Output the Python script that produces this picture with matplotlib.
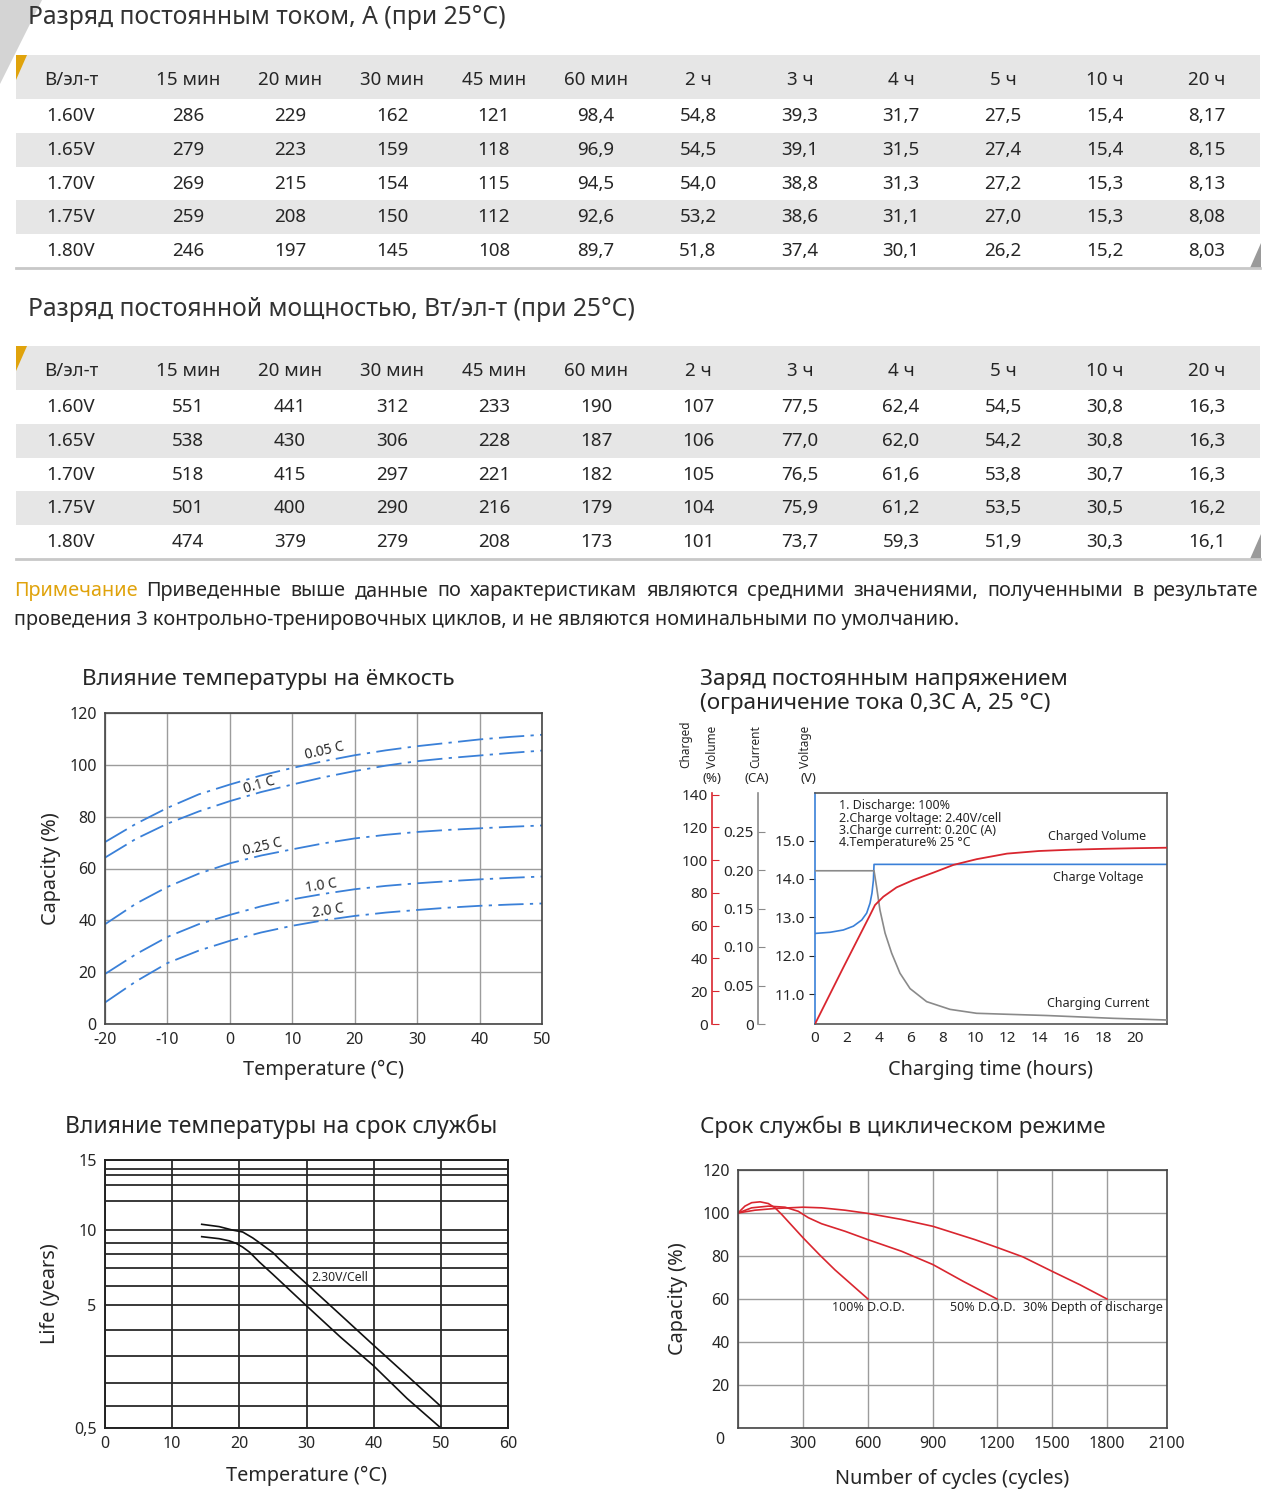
import numpy as np
import matplotlib
matplotlib.use('Agg')
import matplotlib.pyplot as plt
from matplotlib.patches import Rectangle, Polygon

plt.rcParams['font.family'] = ['Noto Sans', 'DejaVu Sans']
plt.rcParams['axes.unicode_minus'] = False

W, H = 1280, 1507
TXT = '#262626'
GOLD = '#e0a30c'
BAND = '#e6e6e6'
BLUE = '#3a80d8'
RED = '#d9262f'

# ---------------- table data ----------------
col_hdr = ['В/эл-т', '15 мин', '20 мин', '30 мин', '45 мин', '60 мин',
           '2 ч', '3 ч', '4 ч', '5 ч', '10 ч', '20 ч']
volt_rows = ['1.60V', '1.65V', '1.70V', '1.75V', '1.80V']
current_vals = [
    ['286', '229', '162', '121', '98,4', '54,8', '39,3', '31,7', '27,5', '15,4', '8,17'],
    ['279', '223', '159', '118', '96,9', '54,5', '39,1', '31,5', '27,4', '15,4', '8,15'],
    ['269', '215', '154', '115', '94,5', '54,0', '38,8', '31,3', '27,2', '15,3', '8,13'],
    ['259', '208', '150', '112', '92,6', '53,2', '38,6', '31,1', '27,0', '15,3', '8,08'],
    ['246', '197', '145', '108', '89,7', '51,8', '37,4', '30,1', '26,2', '15,2', '8,03'],
]
power_vals = [
    ['551', '441', '312', '233', '190', '107', '77,5', '62,4', '54,5', '30,8', '16,3'],
    ['538', '430', '306', '228', '187', '106', '77,0', '62,0', '54,2', '30,8', '16,3'],
    ['518', '415', '297', '221', '182', '105', '76,5', '61,6', '53,8', '30,7', '16,3'],
    ['501', '400', '290', '216', '179', '104', '75,9', '61,2', '53,5', '30,5', '16,2'],
    ['474', '379', '279', '208', '173', '101', '73,7', '59,3', '51,9', '30,3', '16,1'],
]
note_head = 'Примечание'
note_line1 = 'Приведенные выше данные по характеристикам являются средними значениями, полученными в результате'
note_line2 = 'проведения 3 контрольно-тренировочных циклов, и не являются номинальными по умолчанию.'

# ---------------- temperature vs capacity ----------------
tc_temp = [-20, -15, -10, -5, 0, 5, 10, 15, 20, 25, 30, 35, 40, 45, 50]
tc_curves = {
    '0.05 C': [70.2, 77.3, 83.4, 88.6, 92.4, 95.9, 98.8, 101.4, 103.7, 105.6, 107.2, 108.5, 109.8, 110.8, 111.6],
    '0.1 C':  [64.2, 71.5, 77.3, 82.0, 86.0, 89.5, 92.4, 95.2, 97.6, 99.7, 101.4, 102.6, 103.6, 104.6, 105.5],
    '0.25 C': [38.5, 46.5, 52.9, 58.0, 62.0, 65.0, 67.4, 69.7, 71.6, 73.0, 74.1, 74.9, 75.5, 76.1, 76.6],
    '1.0 C':  [19.3, 27.0, 33.6, 38.5, 42.1, 45.4, 48.1, 50.2, 52.0, 53.3, 54.3, 55.1, 55.8, 56.4, 56.9],
    '2.0 C':  [8.3, 16.5, 23.5, 28.3, 32.1, 35.3, 37.9, 40.0, 41.7, 43.0, 44.0, 44.9, 45.6, 46.1, 46.5],
}
tc_lbl_pos = {'0.05 C': (15.2, 105.3, 13), '0.1 C': (4.8, 92.2, 16),
              '0.25 C': (5.3, 68.3, 13), '1.0 C': (14.6, 53.2, 9),
              '2.0 C': (15.8, 43.6, 9)}

# ---------------- constant voltage charge ----------------
chg_volt_t = [0, 0.94, 1.77, 2.4, 2.92, 3.23, 3.44, 3.56, 3.65, 3.69, 22]
chg_volt_v = [12.58, 12.61, 12.67, 12.77, 12.93, 13.11, 13.37, 13.63, 13.97, 14.38, 14.38]
chg_cur_t = [0, 3.69, 3.85, 4.06, 4.38, 4.79, 5.31, 5.94, 6.98, 8.44, 10.1, 12.2, 14.5, 18.6, 22]
chg_cur_a = [0.199, 0.199, 0.178, 0.148, 0.118, 0.092, 0.066, 0.046, 0.029, 0.019,
             0.0139, 0.0125, 0.0110, 0.0074, 0.0052]
chg_vol_t = [0, 1.77, 3.44, 3.75, 4.27, 5.1, 6.15, 7.4, 8.65, 10.1, 12, 14, 16, 18, 20, 22]
chg_vol_p = [0, 34.5, 66.5, 72.6, 77.7, 83.4, 87.9, 92.4, 97.1, 100.6, 104.0, 105.6,
             106.4, 106.9, 107.3, 107.6]
chg_notes = ['1. Discharge: 100%', '2.Charge voltage: 2.40V/cell',
             '3.Charge current: 0.20C (A)', '4.Temperature% 25 °C']

# ---------------- temperature vs life ----------------
life_grid = [0.5, 1, 2, 3, 4, 5, 6, 7, 8, 9, 10, 11, 12, 13, 14, 15]
life_grid_frac = [0.0, 0.0806, 0.1679, 0.2672, 0.3668, 0.4590, 0.5284, 0.5970,
                  0.6493, 0.6903, 0.7373, 0.8455, 0.9041, 0.9414, 0.9664, 0.9985]
life_up_t = [14.4, 17, 19, 20.5, 22, 23, 24, 25, 26, 30, 35, 40, 45, 50]
life_up_y = [10.2, 10.12, 10.0, 9.85, 9.38, 9.0, 8.55, 8.1, 7.6, 6.13, 4.61, 3.41, 2.27, 1.0]
life_lo_t = [14.4, 17, 18.5, 19.5, 20.5, 21.5, 23, 25, 30, 35, 40, 45, 50]
life_lo_y = [9.48, 9.32, 9.15, 8.95, 8.6, 8.15, 7.4, 6.64, 4.96, 3.73, 2.64, 1.33, 0.5]

# ---------------- cycle life ----------------
cyc_grid = [0, 300, 600, 900, 1200, 1500, 1800, 2100]
cyc_grid_frac = [0.0, 0.1515, 0.3030, 0.4545, 0.6037, 0.7319, 0.8601, 1.0]
dod100_n = [0, 32, 63, 102, 140, 171, 202, 300, 377, 448, 600]
dod100_c = [100, 103.2, 104.8, 105.2, 104.4, 102.4, 99.3, 88.5, 80.5, 73.5, 60]
dod50_n = [0, 63, 140, 217, 278, 325, 386, 494, 600, 755, 900, 1042, 1200]
dod50_c = [100, 102.4, 103.2, 102.7, 100.8, 97.8, 95.0, 91.5, 87.6, 82.2, 76.0, 68.2, 60]
dod30_n = [0, 78, 171, 300, 386, 494, 600, 755, 900, 1097, 1200, 1341, 1500, 1653, 1800]
dod30_c = [100, 101.3, 102.1, 102.7, 102.4, 101.3, 99.8, 97.0, 93.8, 87.6, 84.0, 79.6,
           72.9, 66.6, 60]


def px_box(x0, y0, x1, y1):
    return [x0 / W, 1 - y1 / H, (x1 - x0) / W, (y1 - y0) / H]


fig = plt.figure(figsize=(W / 100, H / 100), dpi=100)
bg = fig.add_axes([0, 0, 1, 1], zorder=-5)
bg.set_xlim(0, W)
bg.set_ylim(H, 0)
bg.axis('off')

# decorative corner
bg.add_patch(Polygon([(0, 0), (42, 0), (0, 84)], closed=True, color='#d4d4d4', lw=0))

col_x = [71, 188, 290, 392, 494, 596, 698, 800, 901, 1003, 1105, 1207]
row_off = [61, 95, 129, 162, 196]


def draw_table(top, title, vals):
    bg.text(28, top - 37, title, fontsize=17.8, color='#333333', va='center', ha='left')
    bg.add_patch(Rectangle((16, top), 1244, 44, color=BAND, lw=0))
    bg.add_patch(Rectangle((16, top + 78), 1244, 34, color=BAND, lw=0))
    bg.add_patch(Rectangle((16, top + 145), 1244, 34, color=BAND, lw=0))
    bg.plot([16, 1260], [top + 213, top + 213], color='#c8c8c8', lw=2)
    bg.add_patch(Polygon([(16, top), (27, top), (16, top + 25)], closed=True, color=GOLD, lw=0))
    bg.add_patch(Polygon([(1261, top + 188), (1261, top + 213), (1250, top + 213)],
                         closed=True, color='#9a9a9a', lw=0))
    for x, h in zip(col_x, col_hdr):
        bg.text(x, top + 25, h, fontsize=13.5, color=TXT, ha='center', va='center')
    for r, (lab, row) in enumerate(zip(volt_rows, vals)):
        y = top + row_off[r]
        bg.text(col_x[0], y, lab, fontsize=13.5, color=TXT, ha='center', va='center')
        for x, v in zip(col_x[1:], row):
            bg.text(x, y, v, fontsize=13.5, color=TXT, ha='center', va='center')


draw_table(55, 'Разряд постоянным током, А (при 25°С)', current_vals)
draw_table(346, 'Разряд постоянной мощностью, Вт/эл-т (при 25°С)', power_vals)

# note, first line justified
renderer = fig.canvas.get_renderer()
words = [(note_head, GOLD)] + [(w, TXT) for w in note_line1.split()]
objs = [bg.text(0, 591, w, fontsize=14.3, color=c, va='center', ha='left') for w, c in words]
widths = [o.get_window_extent(renderer).width for o in objs]
gap = (1258 - 14 - sum(widths)) / (len(objs) - 1)
xx = 14
for o, wd in zip(objs, widths):
    o.set_x(xx)
    xx += wd + gap
bg.text(14, 620, note_line2, fontsize=14.3, color=TXT, va='center', ha='left')

# ---------------- chart 1: temperature vs capacity ----------------
ax1 = fig.add_axes(px_box(105, 713, 542, 1024))
for name, vals in tc_curves.items():
    ln, = ax1.plot(tc_temp, vals, color=BLUE, lw=1.3)
    ln.set_dashes((14, 3.5, 1.8, 3.5))
    lx, ly, rot = tc_lbl_pos[name]
    ax1.text(lx, ly, name, fontsize=10, color=TXT, rotation=rot,
             ha='center', va='center', rotation_mode='anchor')
ax1.set_xlim(-20, 50)
ax1.set_ylim(0, 120)
ax1.set_xticks(range(-20, 51, 10))
ax1.set_yticks(range(0, 121, 20))
ax1.grid(color='#9c9c9c', lw=1)
ax1.tick_params(length=0, labelsize=11.5, colors=TXT, pad=6)
for s in ax1.spines.values():
    s.set_color('#444444')
    s.set_linewidth(1.2)
ax1.set_xlabel('Temperature (°C)', fontsize=14.3, color=TXT, labelpad=8)
ax1.set_ylabel('Capacity (%)', fontsize=14.3, color=TXT, labelpad=6)
bg.text(82, 680, 'Влияние температуры на ёмкость', fontsize=16.2, color=TXT, va='center')

# ---------------- chart 2: constant voltage charge ----------------
ax2 = fig.add_axes(px_box(815, 793, 1167, 1024))
ax2.plot(chg_volt_t, chg_volt_v, color=BLUE, lw=1.2)
ax2.set_xlim(0, 22)
ax2.set_ylim(10.22, 16.24)
ax2.set_xticks(range(0, 21, 2))
ax2.set_yticks([11, 12, 13, 14, 15])
ax2.set_yticklabels(['11.0', '12.0', '13.0', '14.0', '15.0'])
ax2.tick_params(axis='x', length=0, labelsize=11, colors=TXT, pad=5)
ax2.tick_params(axis='y', length=4, direction='out', labelsize=11, colors=TXT, pad=3)
for s in ax2.spines.values():
    s.set_color('#555555')
    s.set_linewidth(1.2)
ax2.spines['left'].set_color(BLUE)
ax2.set_xlabel('Charging time (hours)', fontsize=14.3, color=TXT, labelpad=10)

ax2c = ax2.twinx()
ax2c.plot(chg_cur_t, chg_cur_a, color='#8a8a8a', lw=1.2)
ax2c.set_ylim(0, 0.30)
ax2c.set_yticks([0, 0.05, 0.10, 0.15, 0.20, 0.25])
ax2c.set_yticklabels(['0', '0.05', '0.10', '0.15', '0.20', '0.25'])
ax2v = ax2.twinx()
ax2v.plot(chg_vol_t, chg_vol_p, color=RED, lw=1.3)
ax2v.set_ylim(0, 141)
ax2v.set_yticks(range(0, 141, 20))
for tw, off, col in [(ax2c, 57, '#8a8a8a'), (ax2v, 103, RED)]:
    for k in ['right', 'top', 'bottom']:
        tw.spines[k].set_visible(False)
    tw.spines['left'].set_visible(True)
    tw.spines['left'].set_position(('outward', off * 0.72))
    tw.spines['left'].set_color(col)
    tw.spines['left'].set_linewidth(1.2)
    tw.yaxis.set_ticks_position('left')
    tw.tick_params(axis='y', direction='in', length=5, color=col, labelsize=11,
                   labelcolor=TXT, pad=3)

ax2.text(17.6, 15.10, 'Charged Volume', fontsize=9, color=TXT, ha='center', va='center')
ax2.text(17.7, 14.03, 'Charge Voltage', fontsize=9, color=TXT, ha='center', va='center')
ax2.text(17.7, 10.75, 'Charging Current', fontsize=9, color=TXT, ha='center', va='center')
for yv, s in zip([15.91, 15.57, 15.26, 14.95], chg_notes):
    ax2.text(1.5, yv, s, fontsize=9, color=TXT, ha='left', va='center')

for x, s in [(686, 'Charged'), (713, 'Volume'), (756, 'Current'), (806, 'Voltage')]:
    bg.text(x, 768, s, fontsize=8.5, color=TXT, rotation=90, ha='center', va='bottom')
for x, s in [(712, '(%)'), (757, '(CA)'), (808, '(V)')]:
    bg.text(x, 779, s, fontsize=9.5, color=TXT, ha='center', va='center')
bg.text(700, 680, 'Заряд постоянным напряжением', fontsize=16.2, color=TXT, va='center')
bg.text(700, 704, '(ограничение тока 0,3С А, 25 °С)', fontsize=16.2, color=TXT, va='center')

# ---------------- chart 3: temperature vs life ----------------
def life_fwd(v):
    return np.interp(v, life_grid, life_grid_frac)


def life_inv(f):
    return np.interp(f, life_grid_frac, life_grid)


ax3 = fig.add_axes(px_box(105, 1160, 508, 1428))
ax3.set_yscale('function', functions=(life_fwd, life_inv))
ax3.plot(life_up_t, life_up_y, color='#111111', lw=1.2)
ax3.plot(life_lo_t, life_lo_y, color='#111111', lw=1.2)
ax3.set_xlim(0, 60)
ax3.set_ylim(0.5, 15)
ax3.set_xticks(range(0, 61, 10))
ax3.set_yticks(life_grid)
ax3.set_yticklabels(['0,5' if v == 0.5 else (str(v) if v in (5, 10, 15) else '')
                     for v in life_grid])
ax3.yaxis.set_minor_locator(matplotlib.ticker.NullLocator())
ax3.grid(color='#2a2a2a', lw=1.3)
ax3.tick_params(length=0, labelsize=11.5, colors=TXT, pad=6)
for s in ax3.spines.values():
    s.set_color('#222222')
    s.set_linewidth(1.4)
ax3.text(30.8, 6.47, '2.30V/Cell', fontsize=8.8, color=TXT, ha='left', va='center')
ax3.set_xlabel('Temperature (°C)', fontsize=14.3, color=TXT, labelpad=10)
ax3.set_ylabel('Life (years)', fontsize=14.3, color=TXT, labelpad=10)
bg.text(65, 1127, 'Влияние температуры на срок службы', fontsize=16.5, color=TXT, va='center')

# ---------------- chart 4: cycle life ----------------
def cyc_fwd(v):
    return np.interp(v, cyc_grid, cyc_grid_frac)


def cyc_inv(f):
    return np.interp(f, cyc_grid_frac, cyc_grid)


ax4 = fig.add_axes(px_box(738, 1170, 1167, 1428))
ax4.set_xscale('function', functions=(cyc_fwd, cyc_inv))
ax4.plot(dod100_n, dod100_c, color=RED, lw=1.2)
ax4.plot(dod50_n, dod50_c, color=RED, lw=1.2)
ax4.plot(dod30_n, dod30_c, color=RED, lw=1.2)
ax4.set_xlim(0, 2100)
ax4.set_ylim(0, 120)
ax4.set_xticks(cyc_grid)
ax4.set_xticklabels([''] + [str(v) for v in cyc_grid[1:]])
ax4.xaxis.set_minor_locator(matplotlib.ticker.NullLocator())
ax4.set_yticks(range(0, 121, 20))
ax4.set_yticklabels([''] + [str(v) for v in range(20, 121, 20)])
ax4.grid(color='#9c9c9c', lw=1)
ax4.tick_params(length=0, labelsize=11.5, colors=TXT, pad=6)
for s in ax4.spines.values():
    s.set_color('#444444')
    s.set_linewidth(1.2)
ax4.text(600, 56, '100% D.O.D.', fontsize=9, color=TXT, ha='center', va='center')
ax4.text(1135, 56, '50% D.O.D.', fontsize=9, color=TXT, ha='center', va='center')
ax4.text(1724, 56, '30% Depth of discharge', fontsize=9, color=TXT, ha='center', va='center')
ax4.set_xlabel('Number of cycles (cycles)', fontsize=14.3, color=TXT, labelpad=12)
ax4.set_ylabel('Capacity (%)', fontsize=14.3, color=TXT, labelpad=10)
bg.text(720, 1440, '0', fontsize=11.5, color=TXT, ha='center', va='center')
bg.text(700, 1127, 'Срок службы в циклическом режиме', fontsize=16.2, color=TXT, va='center')

fig.savefig('out.png', dpi=100)
